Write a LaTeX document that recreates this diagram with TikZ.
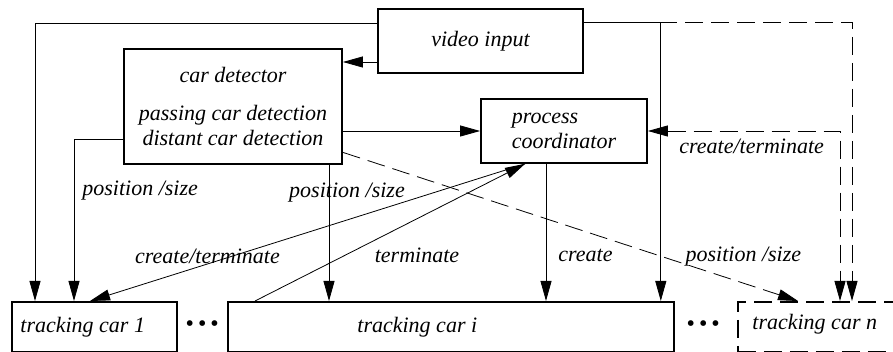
\documentclass[tikz,border=0pt]{standalone}
\usepackage{fontspec}
\setmainfont{Liberation Serif}
\usetikzlibrary{arrows.meta,positioning}

\begin{document}
\begin{tikzpicture}[x=1pt,y=-1pt,->,>={Triangle[length=20pt,width=11pt]},line width=0.8pt,
  every node/.style={font=\fontsize{22}{25}\selectfont\itshape},
  block/.style={draw,rectangle,line width=1.8pt,inner sep=0pt},
  dashedline/.style={dash pattern=on 18pt off 8pt},
  flowlabel/.style={inner sep=2pt}]

  \clip (0,0) rectangle (893,352);

  \node[block,minimum width=205pt,minimum height=64pt] (video) at (480.5,41) {video input};
  \node[block,minimum width=218pt,minimum height=115pt,align=center] (cd) at (233,106.5)
    {car detector\\[13pt]passing car detection\\distant car detection};
  \node[block,minimum width=166pt,minimum height=64pt,align=left] (pc) at (564,131) {process\\coordinator};

  \node[block,minimum width=165pt,minimum height=50pt,anchor=north west] (t1) at (11,301) {};
  \node[block,minimum width=446pt,minimum height=50pt,anchor=north west] (ti) at (227,301) {};
  \node[block,dashedline,minimum width=200pt,minimum height=50pt,anchor=north west] (tn) at (737,301) {};
  \node[right=9pt of t1.west,inner sep=0pt] (t1text) {tracking car 1};
  \node[right=130pt of ti.west,inner sep=0pt] (titext) {tracking car i};
  \node[right=15pt of tn.west,inner sep=0pt,yshift=3pt] (tntext) {tracking car n};
  \node (dotsa) at (202,326) {\fontsize{24}{24}\selectfont\textbullet\,\textbullet\,\textbullet};
  \node (dotsb) at (703,326) {\fontsize{24}{24}\selectfont\textbullet\,\textbullet\,\textbullet};

  \coordinate (vsplit) at (659,22);

  % video input
  \draw ([yshift=18pt]video.west) -| ([xshift=24pt]t1.north west);
  \draw ([yshift=-21pt]video.west) -- ([yshift=-21pt]video.west -| cd.east);
  \draw ([yshift=19pt]video.east) -| ([xshift=-14pt]ti.north east);
  \draw[dashedline] (vsplit) -| ([xshift=115pt]tn.north west);

  % car detector
  \draw ([yshift=-32.5pt]cd.west) -| node[flowlabel,pos=0.66,right=6pt]{position /size} ([xshift=63pt]t1.north west);
  \draw ([xshift=96pt]cd.south) -- node[flowlabel,pos=0.2,xshift=18pt]{position /size} ([xshift=96pt]cd.south |- ti.north);
  \draw (cd.east |- pc.west) -- (pc.west);
  \draw[dashedline] ([yshift=12.5pt]cd.south east) -- node[flowlabel,pos=0.88,yshift=27pt]{position /size} ([xshift=61pt]tn.north west);

  % process coordinator
  \draw ([xshift=-18pt]pc.south) -- node[flowlabel,pos=0.67,right=10pt]{create} ([xshift=-18pt]pc.south |- ti.north);
  \draw ([xshift=-39pt]pc.south) -- node[flowlabel,pos=0.73,yshift=8pt]{create/terminate} ([xshift=79pt]t1.north west);
  \draw ([xshift=28pt]ti.north west) -- node[flowlabel,pos=0.6,yshift=-37pt]{terminate} ([xshift=-39pt]pc.south);
  \draw[dashedline,<->] (pc.east) -| node[flowlabel,pos=0.27,below=6pt]{create/terminate} ([xshift=103pt]tn.north west);

\end{tikzpicture}
\end{document}
